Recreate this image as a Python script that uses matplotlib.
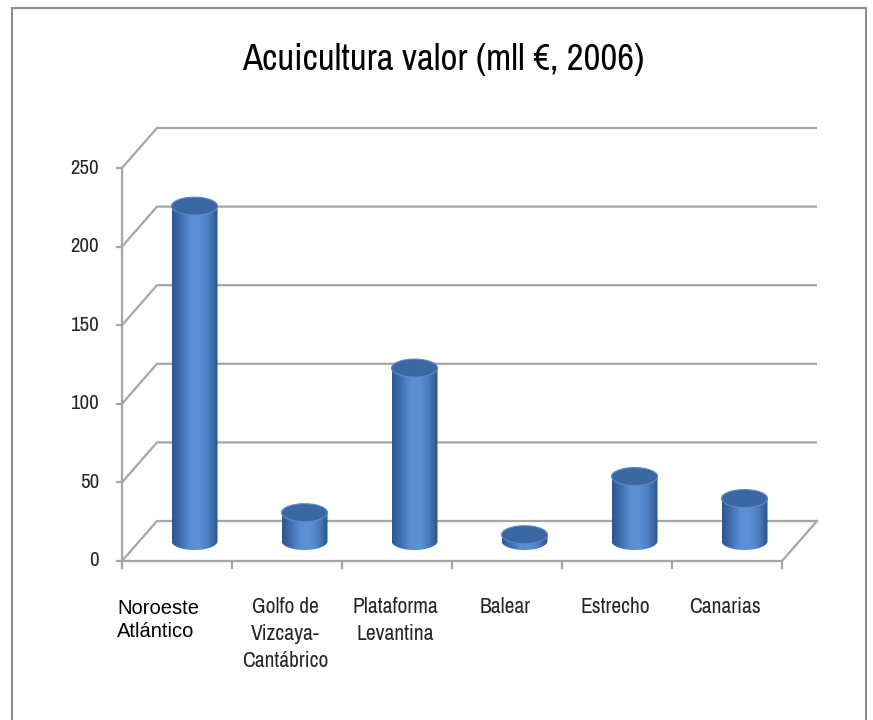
import numpy as np
import matplotlib
matplotlib.use("Agg")
import matplotlib.pyplot as plt
from matplotlib.patches import Polygon, Rectangle
from matplotlib.colors import LinearSegmentedColormap

# ---------------- data ----------------
categories = ["Noroeste\nAtlántico", "Golfo de\nVizcaya-\nCantábrico", "Plataforma\nLevantina",
              "Balear", "Estrecho", "Canarias"]
values = [213, 18, 110, 4, 41, 27]
yticks = [0, 50, 100, 150, 200, 250]
title = "Acuicultura valor (mll €, 2006)"

NARROW = ["Archivo Narrow", "DejaVu Sans"]
REGULAR = ["Liberation Sans", "DejaVu Sans"]

# ---------------- layout ----------------
W, H, DPI = 873, 720, 100
fig = plt.figure(figsize=(W / DPI, H / DPI), dpi=DPI)
fig.patch.set_facecolor("white")

x_front_left = 122      # px, front y axis
cat_px = 110            # px per category
y_zero = 561            # px, front zero
px_per_unit = 1.572     # px per value unit
depth_px = (35, 40)     # depth offset (right, up)

ncat = len(categories)
DX = depth_px[0] / cat_px
DY = depth_px[1] / px_per_unit
ymax = 250

ax_w = (ncat + DX) * cat_px
ax_h = (ymax + DY) * px_per_unit
ax = fig.add_axes([x_front_left / W, (H - y_zero) / H, ax_w / W, ax_h / H])
ax.set_xlim(-0.5, ncat - 0.5 + DX)
ax.set_ylim(0, ymax + DY)
ax.axis("off")

grid_c = "#a6a6a6"
lw = 1.6

for v in yticks:
    ax.plot([-0.5, -0.5 + DX, ncat - 0.5 + DX], [v, v + DY, v + DY],
            color=grid_c, lw=lw, clip_on=False, solid_capstyle="butt", zorder=1)
ax.plot([-0.5, ncat - 0.5, ncat - 0.5 + DX], [0, 0, DY], color=grid_c, lw=lw,
        clip_on=False, zorder=1)
ax.plot([-0.5, -0.5], [0, ymax], color=grid_c, lw=lw, clip_on=False, zorder=1)

tick_len_x = 5 / cat_px
for v in yticks:
    ax.plot([-0.5 - tick_len_x, -0.5], [v, v], color=grid_c, lw=lw, clip_on=False)
    ax.annotate(str(v), xy=(-0.5, v), xytext=(-23, 0), textcoords="offset pixels",
                ha="right", va="center", fontsize=15, family=NARROW, color="#262626")

tick_len_y = 7 / px_per_unit
for i in range(ncat + 1):
    ax.plot([i - 0.5, i - 0.5], [0, -tick_len_y], color=grid_c, lw=lw, clip_on=False)

for i, lab in enumerate(categories):
    if i == 0:
        ax.annotate(lab, xy=(i - 0.5, 0), xytext=(-5, -38), textcoords="offset pixels",
                    ha="left", va="top", fontsize=14.5, linespacing=1.25,
                    family=REGULAR, color="black")
    else:
        ax.annotate(lab, xy=(i, 0), xytext=(-2, -36), textcoords="offset pixels",
                    ha="center", va="top", fontsize=15.5, linespacing=1.45,
                    family=NARROW, color="#262626")

# cylinders
bar_w = 46 / cat_px
ell_h = 18 / px_per_unit
cmap = LinearSegmentedColormap.from_list(
    "cyl", ["#2c5690", "#3f70b2", "#5a8fd4", "#5c91d6", "#4a7cc0", "#2b5288"])
grad = np.linspace(0, 1, 256).reshape(1, -1)
t_low = np.linspace(np.pi, 2 * np.pi, 60)
t_all = np.linspace(0, 2 * np.pi, 120)
for i, v in enumerate(values):
    xc = i + DX / 2
    base = DY / 2
    top = v + DY / 2
    xl, xr = xc - bar_w / 2, xc + bar_w / 2
    bx = np.concatenate([[xl], xc + bar_w / 2 * np.cos(t_low), [xr]])
    by = np.concatenate([[top], base + ell_h / 2 * np.sin(t_low), [top]])
    body = Polygon(np.column_stack([bx, by]), closed=True, facecolor="none",
                   edgecolor="none", zorder=3)
    ax.add_patch(body)
    im = ax.imshow(grad, cmap=cmap, aspect="auto", interpolation="bilinear",
                   extent=(xl, xr, base - ell_h, top + ell_h), zorder=3)
    im.set_clip_path(body)
    ex = xc + bar_w / 2 * np.cos(t_all)
    ey = top + ell_h / 2 * np.sin(t_all)
    ax.add_patch(Polygon(np.column_stack([ex, ey]), closed=True,
                         facecolor="#3b67a2", edgecolor="#5d8bc8", lw=0.8, zorder=4))

ax.set_xlim(-0.5, ncat - 0.5 + DX)
ax.set_ylim(0, ymax + DY)

fig.text(443 / W, 1 - 60 / H, title, ha="center", va="center", fontsize=26.5,
         family=NARROW, color="black")

border = Rectangle((12 / W, -0.01), (866 - 12) / W, (H - 8) / H + 0.01,
                   transform=fig.transFigure, fill=False, edgecolor="#8c8c8c", lw=1.5)
fig.patches.append(border)

fig.savefig("out.png", dpi=DPI)
